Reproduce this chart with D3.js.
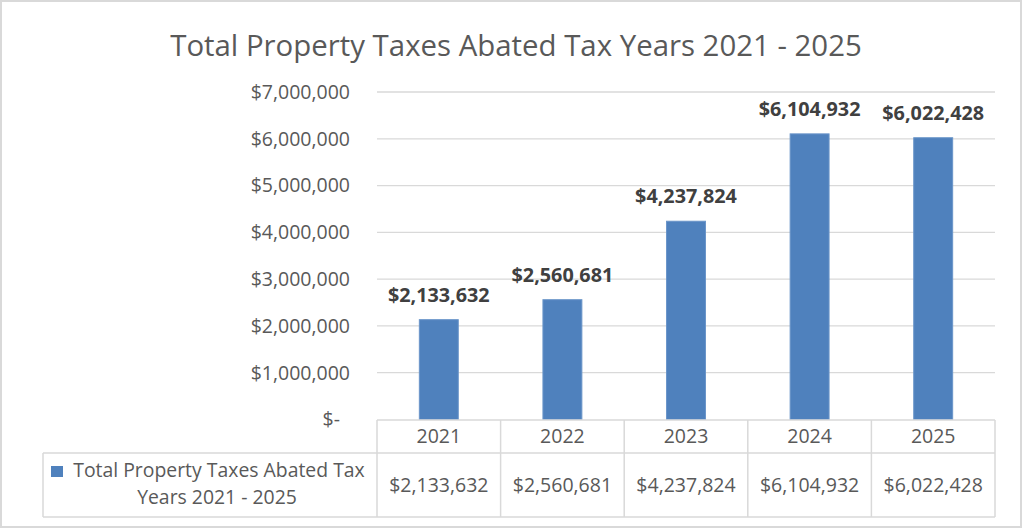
<!DOCTYPE html>
<meta charset="utf-8">
<head>
<style>
  body { margin: 0; background: #fff; }
  svg { font-family: 'Open Sans', sans-serif; display: block; }
  .grid line { stroke: #d9d9d9; stroke-width: 1.3px; }
  .tbl { stroke: #d9d9d9; stroke-width: 1.5px; fill: none; }
</style>
</head>
<body>
<svg width="1024" height="530"></svg>
<script src="https://d3js.org/d3.v7.min.js"></script>
<script>
// data
var years = ["2021", "2022", "2023", "2024", "2025"];
var abated = [2133632, 2560681, 4237824, 6104932, 6022428];
var yTicks = [0, 1000000, 2000000, 3000000, 4000000, 5000000, 6000000, 7000000];
var seriesName = "Total Property Taxes Abated Tax Years 2021 - 2025";
var legendLines = ["Total Property Taxes Abated Tax", "Years 2021 - 2025"];

var svg = d3.select("svg");
var money = d3.format("$,");

// chart frame
svg.append("rect")
  .attr("x", 1).attr("y", 1).attr("width", 1020).attr("height", 526)
  .attr("fill", "#fff").attr("stroke", "#d9d9d9").attr("stroke-width", 2);

svg.append("text")
  .attr("x", 516).attr("y", 56)
  .attr("text-anchor", "middle")
  .style("font-size", "29.4px")
  .style("fill", "#595959")
  .text(seriesName);

var plotLeft = 377, plotRight = 995, plotTop = 92, plotBottom = 419.5;

var x = d3.scaleBand().domain(years).range([plotLeft, plotRight]).padding(0);
var y = d3.scaleLinear().domain([0, 7000000]).range([plotBottom, plotTop]);

// gridlines
svg.append("g").attr("class", "grid")
  .selectAll("line")
  .data(yTicks.filter(d => d > 0))
  .enter().append("line")
    .attr("x1", plotLeft).attr("x2", plotRight)
    .attr("y1", d => y(d)).attr("y2", d => y(d));

// y axis labels
svg.append("g")
  .selectAll("text")
  .data(yTicks)
  .enter().append("text")
    .attr("x", d => d === 0 ? 340 : 350)
    .attr("y", d => y(d))
    .attr("dy", "0.35em")
    .attr("text-anchor", "end")
    .style("font-size", "19.5px")
    .style("fill", "#595959")
    .text(d => d === 0 ? "$-" : money(d));

// bars
var barW = x.bandwidth() * 0.315;
svg.append("g")
  .selectAll("rect")
  .data(years)
  .enter().append("rect")
    .attr("x", d => x(d) + (x.bandwidth() - barW) / 2)
    .attr("y", (d, i) => y(abated[i]))
    .attr("width", barW)
    .attr("height", (d, i) => plotBottom - y(abated[i]))
    .attr("fill", "#4f81bd")
    .attr("stroke", "#6a95c9")
    .attr("stroke-width", 1);

// data labels
svg.append("g")
  .selectAll("text")
  .data(years)
  .enter().append("text")
    .attr("x", d => x(d) + x.bandwidth() / 2)
    .attr("y", (d, i) => y(abated[i]) - 18)
    .attr("text-anchor", "middle")
    .style("font-size", "19.8px")
    .style("font-weight", "bold")
    .style("fill", "#404040")
    .text((d, i) => money(abated[i]));

// data table
var rowTop = 420, rowMid = 453, rowBot = 517, legLeft = 43;
var tbl = svg.append("g").attr("class", "tbl");
tbl.append("line").attr("x1", plotLeft).attr("x2", plotRight).attr("y1", rowTop).attr("y2", rowTop);
tbl.append("line").attr("x1", legLeft).attr("x2", plotRight).attr("y1", rowMid).attr("y2", rowMid);
tbl.append("line").attr("x1", legLeft).attr("x2", plotRight).attr("y1", rowBot).attr("y2", rowBot);
tbl.append("line").attr("x1", legLeft).attr("x2", legLeft).attr("y1", rowMid).attr("y2", rowBot);
tbl.selectAll("line.v")
  .data(years.concat(["end"]))
  .enter().append("line")
    .attr("class", "v")
    .attr("x1", d => d === "end" ? plotRight : x(d))
    .attr("x2", d => d === "end" ? plotRight : x(d))
    .attr("y1", rowTop).attr("y2", rowBot);

svg.append("g")
  .selectAll("text")
  .data(years)
  .enter().append("text")
    .attr("x", d => x(d) + x.bandwidth() / 2)
    .attr("y", 443)
    .attr("text-anchor", "middle")
    .style("font-size", "19.5px")
    .style("fill", "#595959")
    .text(d => d);

svg.append("g")
  .selectAll("text")
  .data(years)
  .enter().append("text")
    .attr("x", d => x(d) + x.bandwidth() / 2)
    .attr("y", 492)
    .attr("text-anchor", "middle")
    .style("font-size", "19.5px")
    .style("fill", "#595959")
    .text((d, i) => money(abated[i]));

// legend key in table
svg.append("rect")
  .attr("x", 51).attr("y", 466).attr("width", 12).attr("height", 11)
  .attr("fill", "#4f81bd");

svg.append("g")
  .selectAll("text")
  .data(legendLines)
  .enter().append("text")
    .attr("x", (d, i) => i === 0 ? 219 : 217)
    .attr("y", (d, i) => 477 + i * 27)
    .attr("text-anchor", "middle")
    .style("font-size", "19.4px")
    .style("fill", "#595959")
    .text(d => d);
</script>
</body>
